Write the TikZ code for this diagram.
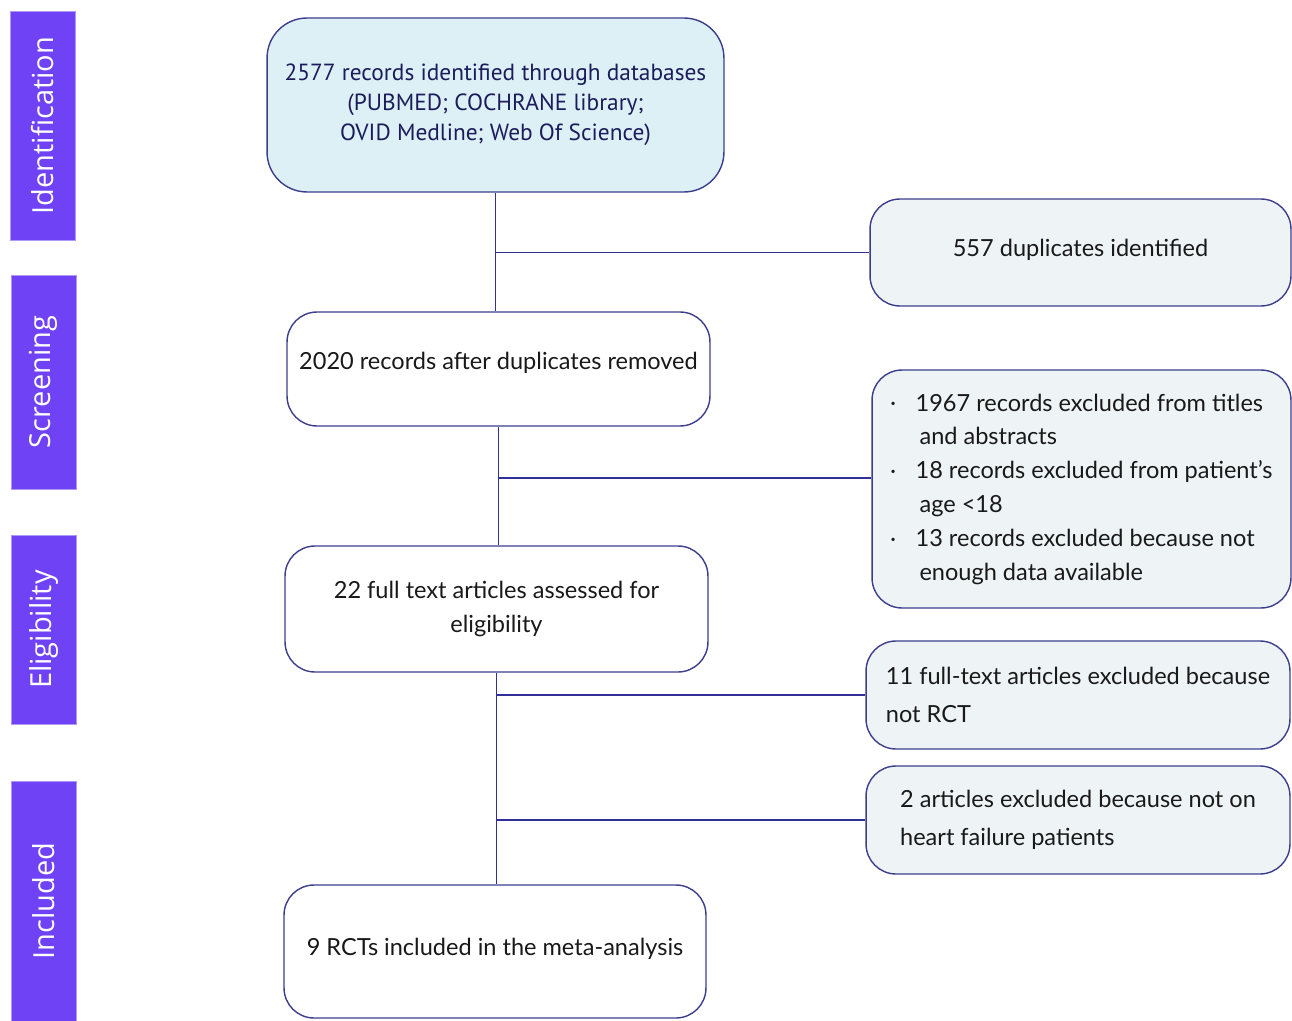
\documentclass[tikz,border=0pt]{standalone}
\usepackage{fontspec}
\setmainfont{Lato}
\newfontfamily\dbfont{PT Sans}
\newfontfamily\phasefont{Open Sans}
\usepackage{xcolor}
\usetikzlibrary{positioning, calc}
\definecolor{phasebar}{RGB}{112,66,245}
\definecolor{boxline}{RGB}{60,62,140}
\definecolor{topfill}{RGB}{221,240,245}
\definecolor{sidefill}{RGB}{238,243,246}
\definecolor{linkline}{RGB}{48,48,150}
\definecolor{dbtext}{RGB}{28,28,92}

\begin{document}
\begin{tikzpicture}[x=0.02cm, y=-0.02cm,
    phase/.style={fill=phasebar, draw=phasebar!55!white, text=white, rotate=90, inner sep=0pt,
      font=\phasefont\fontsize{16.5}{19}\selectfont},
    mainbox/.style={draw=boxline, thick, fill=white, rounded corners=0.6cm, align=center,
      text=black!90, font=\fontsize{13.4}{19.3}\selectfont},
    sidebox/.style={draw=boxline, thick, fill=sidefill, rounded corners=0.6cm, align=left,
      text=black!90, font=\fontsize{13.4}{21.6}\selectfont},
    link/.style={draw=linkline, line width=0.9pt}]
      \useasboundingbox (0,0) rectangle (1292,1021);

      % Phase bars
      \node[phase, minimum width=4.58cm, minimum height=1.30cm] (idbar) at (42.5,125.5) {Identification};
      \node[phase, minimum width=4.28cm, minimum height=1.30cm] (scbar) at (43.5,382) {Screening};
      \node[phase, minimum width=3.78cm, minimum height=1.30cm] (elbar) at (43.5,629.5) {Eligibility};
      \node[phase, minimum width=4.80cm, minimum height=1.30cm] (inbar) at (43.5,901) {Included};

      % Main flow
      \node[mainbox, fill=topfill, rounded corners=0.8cm, minimum width=9.14cm, minimum height=3.48cm,
        text=dbtext, font=\dbfont\fontsize{13.3}{17.2}\selectfont] (ident) at (495.5,105)
        {2577 records identified through databases\\(PUBMED; COCHRANE library;\\OVID Medline; Web Of Science)};
      \node[mainbox, minimum width=8.46cm, minimum height=2.28cm, text depth=0.32cm] (rec2020) at (498.5,369)
        {2020 records after duplicates removed};
      \node[mainbox, minimum width=8.46cm, minimum height=2.52cm] (full22) at (496.5,609)
        {22 full text articles assessed for\\eligibility};
      \node[mainbox, minimum width=8.44cm, minimum height=2.66cm, text depth=0.2cm] (rct9) at (495,951.5)
        {9 RCTs included in the meta-analysis};

      % Exclusions
      \node[sidebox, align=center, minimum width=8.42cm, minimum height=2.14cm, text depth=0.2cm] (dup) at (1080.5,252.5)
        {557 duplicates identified};
      \node[sidebox, minimum width=8.38cm, minimum height=4.76cm, font=\fontsize{13.4}{19.3}\selectfont] (excl) at (1081.5,489)
        {\begin{tabular}{@{}l@{\hspace{0.4cm}}l@{}}
          \raisebox{0.35ex}{\tiny\textbullet} & 1967 records excluded from titles\\
           & \,and abstracts\\
          \raisebox{0.35ex}{\tiny\textbullet} & 18 records excluded from patient's\\
           & \,age <18\\
          \raisebox{0.35ex}{\tiny\textbullet} & 13 records excluded because not\\
           & \,enough data available
         \end{tabular}};
      \node[sidebox, minimum width=8.48cm, minimum height=2.16cm] (notrct) at (1078,695)
        {11 full-text articles excluded because\\not RCT};
      \node[sidebox, minimum width=8.48cm, minimum height=2.16cm] (nothf) at (1078,820)
        {2 articles excluded because not on\\heart failure patients};

      % Connectors
      \draw[link] (ident.south) -- (ident.south |- rec2020.north);
      \draw[link] (ident.south |- dup.west) -- (dup.west);
      \draw[link] (rec2020.south) -- (rec2020.south |- full22.north);
      \draw[link] (rec2020.south |- excl.west) ++(0,-11) coordinate (exj) -- (exj -| excl.west);
      \draw[link] (full22.south) -- (full22.south |- rct9.north);
      \draw[link] (full22.south |- notrct.west) -- (notrct.west);
      \draw[link] (full22.south |- nothf.west) -- (nothf.west);
    \end{tikzpicture}
\end{document}
